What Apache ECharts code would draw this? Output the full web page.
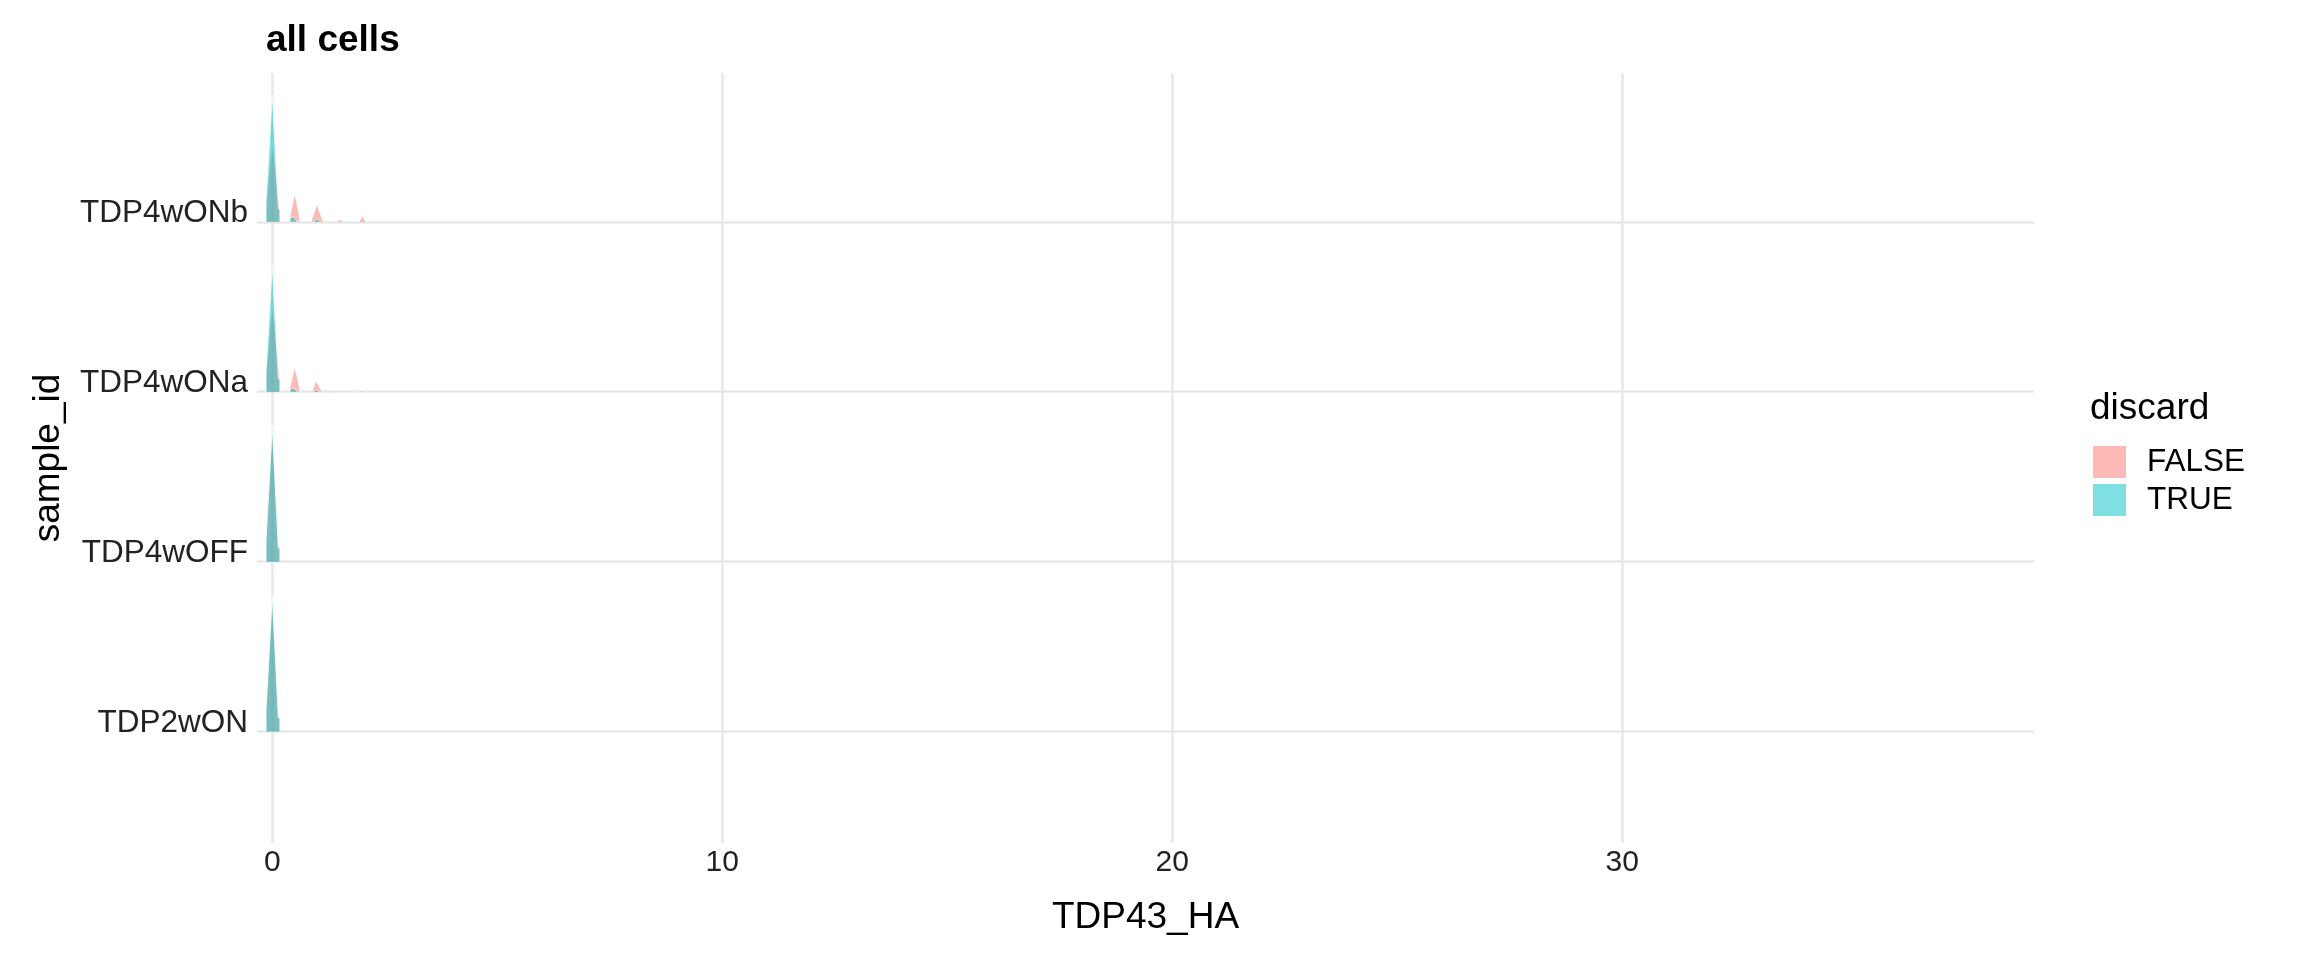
<!DOCTYPE html>
<html>
<head>
<meta charset="utf-8">
<script src="https://cdn.jsdelivr.net/npm/echarts@6/dist/echarts.min.js"></script>
<style>
  html, body { margin: 0; padding: 0; background: #fff; }
  #chart { width: 2304px; height: 960px; }
</style>
</head>
<body>
<div id="chart"></div>
<script>
// ---- data ----
const samples = ['TDP2wON', 'TDP4wOFF', 'TDP4wONa', 'TDP4wONb'];
const groups = ['FALSE', 'TRUE'];
const xTicks = [0, 10, 20, 30];

// ridge outlines: x positions and scaled density heights (row units); null separates bumps
const TDP2wON_FALSE_x = [-0.14, -0.14, 0, 0.135, 0.17, 0.17];
const TDP2wON_FALSE_h = [0, 0.118, 0.782, 0.076, 0.076, 0];
const TDP2wON_TRUE_x = [-0.14, -0.14, 0, 0.135, 0.17, 0.17];
const TDP2wON_TRUE_h = [0, 0.124, 0.800, 0.082, 0.082, 0];

const TDP4wOFF_FALSE_x = [-0.14, -0.14, 0, 0.135, 0.17, 0.17];
const TDP4wOFF_FALSE_h = [0, 0.118, 0.782, 0.076, 0.076, 0];
const TDP4wOFF_TRUE_x = [-0.14, -0.14, 0, 0.135, 0.17, 0.17];
const TDP4wOFF_TRUE_h = [0, 0.124, 0.800, 0.082, 0.082, 0];

const TDP4wONa_FALSE_x = [-0.14, -0.14, 0, 0.17, 0.17, null, 0.39, 0.39, 0.50, 0.60, 0.60, null, 0.89, 0.97, 1.10, null, 1.93, 2.0, 2.06];
const TDP4wONa_FALSE_h = [0, 0.100, 0.518, 0.071, 0, null, 0, 0.024, 0.145, 0.029, 0, null, 0, 0.067, 0, null, 0, 0.008, 0];
const TDP4wONa_TRUE_x = [-0.14, -0.14, 0, 0.135, 0.17, 0.17, null, 0.39, 0.39, 0.47, 0.56, null, 0.90, 0.98, 1.06];
const TDP4wONa_TRUE_h = [0, 0.118, 0.741, 0.076, 0.076, 0, null, 0, 0.012, 0.024, 0, null, 0, 0.012, 0];

const TDP4wONb_FALSE_x = [-0.14, -0.14, 0, 0.17, 0.17, null, 0.39, 0.39, 0.50, 0.60, 0.60, null, 0.86, 0.99, 1.13, null, 1.45, 1.45, 1.56, 1.56, null, 1.93, 2.0, 2.08];
const TDP4wONb_FALSE_h = [0, 0.088, 0.471, 0.059, 0, null, 0, 0.029, 0.168, 0.035, 0, null, 0, 0.104, 0, null, 0, 0.010, 0.010, 0, null, 0, 0.035, 0];
const TDP4wONb_TRUE_x = [-0.14, -0.14, 0, 0.135, 0.17, 0.17, null, 0.39, 0.39, 0.47, 0.56, null, 0.90, 1.0, 1.08];
const TDP4wONb_TRUE_h = [0, 0.118, 0.747, 0.076, 0.076, 0, null, 0, 0.018, 0.032, 0, null, 0, 0.018, 0];

const ridges = {
  FALSE: [
    { x: TDP2wON_FALSE_x, h: TDP2wON_FALSE_h },
    { x: TDP4wOFF_FALSE_x, h: TDP4wOFF_FALSE_h },
    { x: TDP4wONa_FALSE_x, h: TDP4wONa_FALSE_h },
    { x: TDP4wONb_FALSE_x, h: TDP4wONb_FALSE_h }
  ],
  TRUE: [
    { x: TDP2wON_TRUE_x, h: TDP2wON_TRUE_h },
    { x: TDP4wOFF_TRUE_x, h: TDP4wOFF_TRUE_h },
    { x: TDP4wONa_TRUE_x, h: TDP4wONa_TRUE_h },
    { x: TDP4wONb_TRUE_x, h: TDP4wONb_TRUE_h }
  ]
};

const fills = { FALSE: 'rgba(248,118,109,0.5)', TRUE: 'rgba(0,191,196,0.5)' };
const FONT = '"Liberation Sans", Arial, Helvetica, sans-serif';

function makeRender(g) {
  return function (params, api) {
    const si = params.dataIndex;
    const r = ridges[g][si];
    const base = si + 1;
    const children = [];
    let seg = [];
    const flush = function () {
      if (seg.length > 1) {
        const pts = seg.map(p => api.coord([p[0], base + p[1]]));
        children.push({ type: 'polygon', shape: { points: pts }, style: { fill: fills[g] } });
        children.push({ type: 'polyline', shape: { points: pts }, style: { stroke: 'rgba(255,255,255,0.75)', lineWidth: 1, lineJoin: 'round', fill: null } });
      }
      seg = [];
    };
    for (let i = 0; i < r.x.length; i++) {
      if (r.x[i] === null) flush();
      else seg.push([r.x[i], r.h[i]]);
    }
    flush();
    return { type: 'group', children: children };
  };
}

const chart = echarts.init(document.getElementById('chart'), null, { renderer: 'canvas' });

chart.setOption({
  backgroundColor: '#ffffff',
  animation: false,
  textStyle: { fontFamily: FONT },
  title: [
    { text: 'all cells', left: 261, top: 17, textStyle: { fontSize: 37, fontWeight: 'bold', color: '#000', fontFamily: FONT } },
    { text: 'discard', left: 2085, top: 385, textStyle: { fontSize: 37, fontWeight: 'normal', color: '#000', fontFamily: FONT } }
  ],
  legend: {
    orient: 'vertical',
    left: 2088,
    top: 441,
    itemWidth: 33,
    itemHeight: 32,
    itemGap: 6,
    data: groups.map(g => ({ name: g, icon: 'rect' })),
    textStyle: { fontSize: 31.5, color: '#000', fontFamily: FONT, lineHeight: 32, padding: [0, 0, 0, 16] }
  },
  grid: { left: 257, right: 270, top: 73, bottom: 117, containLabel: false },
  xAxis: {
    type: 'value',
    min: -0.34,
    max: 39.15,
    splitNumber: 4,
    name: 'TDP43_HA',
    nameLocation: 'middle',
    nameGap: 56,
    nameTextStyle: { fontSize: 37, color: '#000', fontFamily: FONT },
    axisLine: { show: false },
    axisTick: { show: false },
    axisLabel: {
      fontSize: 30, color: '#222', fontFamily: FONT, margin: 5,
      showMinLabel: false, showMaxLabel: false,
      formatter: v => (xTicks.indexOf(v) >= 0 ? String(v) : '')
    },
    splitLine: { show: true, showMinLine: false, showMaxLine: false, lineStyle: { color: '#E8E8E8', width: 2.5 } }
  },
  yAxis: {
    type: 'value',
    min: 0.344,
    max: 4.876,
    splitNumber: 5,
    name: 'sample_id',
    nameLocation: 'middle',
    nameRotate: 90,
    nameGap: 190,
    nameTextStyle: { fontSize: 37, color: '#000', fontFamily: FONT },
    axisLine: { show: false },
    axisTick: { show: false },
    axisLabel: {
      fontSize: 31.5, color: '#222', fontFamily: FONT, margin: 9,
      verticalAlign: 'bottom',
      lineHeight: 17,
      showMinLabel: false, showMaxLabel: false,
      formatter: v => (Number.isInteger(v) && v >= 1 && v <= samples.length ? samples[v - 1] : '')
    },
    splitLine: { show: true, showMinLine: false, showMaxLine: false, lineStyle: { color: '#E8E8E8', width: 2.5 } }
  },
  series: groups.map(g => ({
    type: 'custom',
    name: g,
    itemStyle: { color: fills[g] },
    renderItem: makeRender(g),
    data: samples.map((s, i) => [0, i + 1]),
    encode: { x: 0, y: 1 },
    silent: true
  }))
});
</script>
</body>
</html>
